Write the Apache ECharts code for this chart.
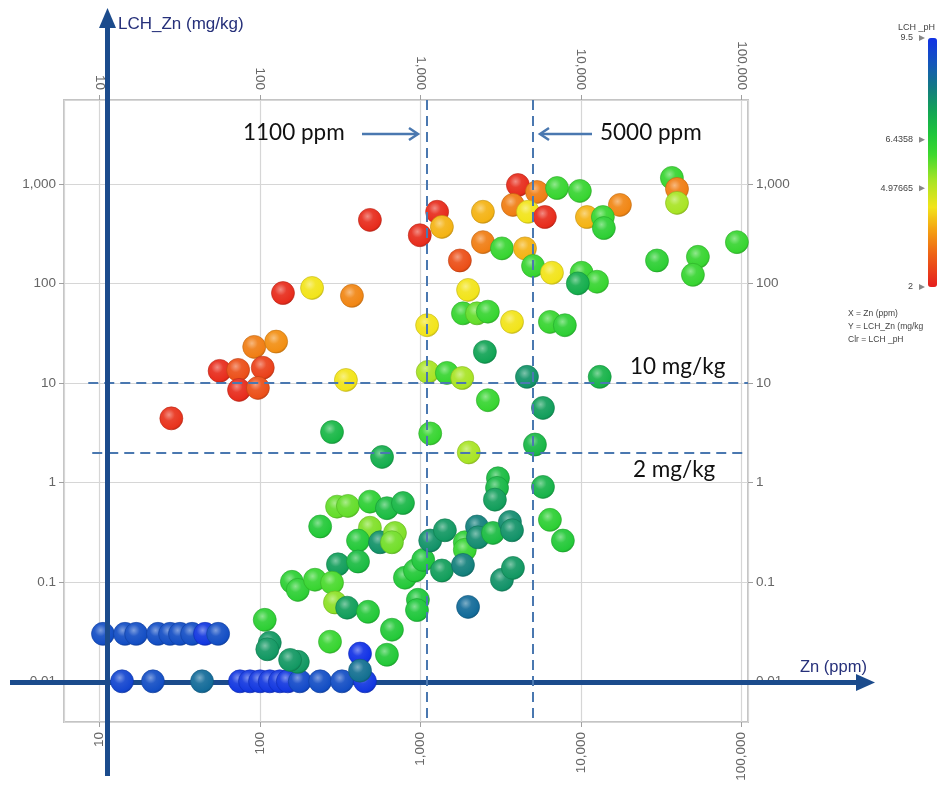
<!DOCTYPE html>
<html><head><meta charset="utf-8">
<script src="https://cdn.jsdelivr.net/npm/echarts@6/dist/echarts.min.js"></script>
<style>html,body{margin:0;padding:0;background:#fff}#c{width:944px;height:790px}</style>
</head><body><div id="c"></div>
<script>
// ---- data ----
const znPpm = [
  10.5,14.4,16.9,23.1,27.5,31.7,37.7,45.4,54.8,
  13.8,21.5,43.5,75,86.6,100,115,133,149,177,237,324,451,
  36900,39700,39700,4050,5320,7100,9850,3770,4680,5960,
  17500,10900,13700,13900,1270,1360,990,2450,2450,3220,
  4480,1760,5030,6600,10100,12600,9570,29800,53600,49900,
  93800,1980,1840,2250,2630,1100,3720,6410,7940,2520,
  1110,1460,1820,4610,13100,2630,5800,484,139,211,
  374,92,126,56,73,104,74,97,343,28,
  281,1150,576,2000,5170,5800,3040,3000,2910,6410,
  7720,302,353,484,618,778,237,484,408,560,
  693,664,306,408,158,172,220,281,800,924,
  1040,1150,1420,1360,1890,1890,2250,2280,1840,2830,
  3610,3720,3220,3770,293,349,471,964,951,1980,
  664,273,618,420,172,154,420,107,115,111
];
const lchZn = [
  0.03,0.03,0.03,0.03,0.03,0.03,0.03,0.03,0.03,
  0.01,0.01,0.01,0.01,0.01,0.01,0.01,0.01,0.01,0.01,0.01,0.01,0.01,
  1150,890,645,975,830,910,850,615,525,465,
  615,465,465,360,525,370,305,525,260,225,
  225,170,150,128,128,104,100,170,185,122,
  260,86,50,50,52,38,41,41,38,20.5,
  12.9,12.6,11.2,11.5,11.5,6.7,5.6,435,80,90,
  75,23,26,13.2,13.5,14.2,8.5,8.9,10.7,4.4,
  3.2,3.1,1.8,2.0,2.4,0.9,1.1,0.88,0.67,0.42,
  0.26,0.57,0.58,0.64,0.55,0.62,0.36,0.35,0.26,0.25,
  0.31,0.25,0.15,0.16,0.10,0.083,0.105,0.098,0.11,0.13,
  0.166,0.26,0.33,0.13,0.25,0.21,0.36,0.28,0.148,0.31,
  0.40,0.33,0.105,0.138,0.062,0.055,0.05,0.066,0.052,0.056,
  0.033,0.025,0.0185,0.019,0.0157,0.0164,0.0128,0.0415,0.0244,0.021
];
const lchPh = [
  8.9,8.9,8.9,8.9,8.9,8.9,8.9,9.4,8.9,
  9.1,8.9,8.3,9.4,9.4,9.4,9.4,9.4,9.4,9.0,8.9,8.9,9.4,
  6.1,3.3,5.2,2.2,3.3,6.1,6.1,3.3,4.4,2.2,
  3.4,3.9,6.1,6.3,2.2,3.9,2.2,3.9,3.3,6.1,
  3.9,2.7,6.1,4.4,6.1,6.1,7.1,6.3,6.1,6.1,
  6.1,4.4,6.1,5.7,6.1,4.4,4.4,6.1,6.3,7.3,
  5.2,6.1,5.2,7.6,7.0,6.1,7.4,2.2,2.2,4.4,
  3.4,3.3,3.5,2.2,2.7,2.5,2.2,2.7,4.4,2.3,
  6.9,6.1,7.1,5.2,6.9,7.0,6.8,6.9,7.4,6.3,
  6.5,5.7,5.7,6.3,6.8,6.9,6.5,5.5,6.5,7.6,
  5.5,5.6,7.4,6.8,6.3,6.3,6.1,5.9,6.5,6.5,
  6.6,7.6,7.5,7.4,6.3,6.1,7.9,7.7,7.9,6.8,
  7.7,7.6,7.6,7.5,5.4,7.4,6.5,6.6,6.6,8.3,
  6.5,6.1,6.5,9.5,7.5,7.5,8.2,6.3,7.5,7.5
];
const xRange = [6, 110000];
const yRange = [0.0039, 6980];
const zinThresholds = [1100, 5000];      // vertical dashed lines (ppm)
const leachThresholds = [10, 2];         // horizontal dashed lines (mg/kg)
const phRange = [2, 9.5];
const legendTicks = [9.5, 6.4358, 4.97665, 2];

// ---- colour scale for pH ----
const phStops = [[2.0,'#e51e1e'],[3.0,'#ee6416'],[3.75,'#f4a412'],[4.4,'#f2e41a'],[5.2,'#a8e424'],
  [6.0,'#3cd82e'],[6.6,'#1ec63a'],[7.3,'#12a455'],[8.0,'#137a82'],[8.7,'#1458b8'],[9.5,'#1232e6']];
function phColor(v){
  for (let i=0;i<phStops.length-1;i++){
    const a=phStops[i], b=phStops[i+1];
    if (v<=b[0]) return echarts.color.lerp((v-a[0])/(b[0]-a[0]), [a[1], b[1]]);
  }
  return phStops[phStops.length-1][1];
}
const vmColors=[]; for(let k=0;k<=75;k++) vmColors.push(phColor(phRange[0]+(phRange[1]-phRange[0])*k/75));
function mix(c, t, w){ const p=echarts.color.parse(c); const r=[0,1,2].map(i=>Math.round(p[i]+(t[i]-p[i])*w)); return 'rgb('+r.join(',')+')'; }

const points = znPpm.map((x,i)=>[x, lchZn[i], lchPh[i]]);

function fmt(v){ const n=Number(Number(v).toPrecision(6)); return n.toLocaleString('en-US',{maximumFractionDigits:6}); }
const FONT='Liberation Sans';
function axis(pos, isX, grid){
  return {
    type:'log', logBase:10, position:pos,
    min: isX?xRange[0]:yRange[0], max: isX?xRange[1]:yRange[1],
    axisLine:{show:false},
    axisTick:{show:true, length:5, lineStyle:{color:'#a0a0a0'}},
    axisLabel:{show:true, rotate: isX?90:0, margin: isX?10:8, color:'#666', fontSize:13.5, fontFamily:FONT,
      showMinLabel:false, showMaxLabel:false, formatter: fmt},
    splitLine:{show:grid, lineStyle:{color:'#d6d6d6', width:1.2}},
    minorTick:{show:false}
  };
}
const dashStyle={type:[10,6], color:'#4a78b0', width:2};
const markData=[];
zinThresholds.forEach(v=>markData.push([{coord:[v,yRange[1]]},{coord:[v,yRange[0]]}]));
markData.push([{coord:[8.5,leachThresholds[0]]},{coord:[110000,leachThresholds[0]]}]);
markData.push([{coord:[9.0,leachThresholds[1]]},{coord:[110000,leachThresholds[1]]}]);

const navy='#1b4b8c', annBlue='#4a78b0';
const gfx=[
  {type:'line', z:1, shape:{x1:10,y1:682.5,x2:858,y2:682.5}, style:{stroke:navy,lineWidth:5}},
  {type:'polygon', z:1, shape:{points:[[875,682.5],[856,674],[856,691]]}, style:{fill:navy}},
  {type:'line', z:100, shape:{x1:107.5,y1:776,x2:107.5,y2:24}, style:{stroke:navy,lineWidth:5}},
  {type:'polygon', z:100, shape:{points:[[107.5,8],[99,28],[116,28]]}, style:{fill:navy}},
  {type:'text', z:100, x:118, y:24, style:{text:'LCH_Zn (mg/kg)', fill:'#26307a', font:'17px '+FONT, verticalAlign:'middle'}},
  {type:'text', z:100, x:800, y:667, style:{text:'Zn (ppm)', fill:'#26307a', font:'16.5px '+FONT, verticalAlign:'middle'}},
  {type:'text', z:100, x:243, y:133, style:{text:'1100 ppm', fill:'#111', font:'22.5px Lato', verticalAlign:'middle'}},
  {type:'line', z:100, shape:{x1:362,y1:134,x2:417,y2:134}, style:{stroke:annBlue,lineWidth:2.5}},
  {type:'polyline', z:100, shape:{points:[[409,128],[418,134],[409,140]]}, style:{stroke:annBlue,lineWidth:2.5}},
  {type:'text', z:100, x:600, y:133, style:{text:'5000 ppm', fill:'#111', font:'22.5px Lato', verticalAlign:'middle'}},
  {type:'line', z:100, shape:{x1:541,y1:134,x2:592,y2:134}, style:{stroke:annBlue,lineWidth:2.5}},
  {type:'polyline', z:100, shape:{points:[[549,128],[540,134],[549,140]]}, style:{stroke:annBlue,lineWidth:2.5}},
  {type:'text', z:100, x:630, y:367, style:{text:'10 mg/kg', fill:'#111', font:'22.5px Lato', verticalAlign:'middle'}},
  {type:'text', z:100, x:633, y:470, style:{text:'2 mg/kg', fill:'#111', font:'22.5px Lato', verticalAlign:'middle'}},
  {type:'text', z:100, x:935, y:28, style:{text:'LCH _pH', fill:'#444', font:'9px '+FONT, align:'right', verticalAlign:'middle'}},
  {type:'text', z:100, x:848, y:314, style:{text:'X = Zn (ppm)', fill:'#444', font:'8.5px '+FONT, verticalAlign:'middle'}},
  {type:'text', z:100, x:848, y:327, style:{text:'Y = LCH_Zn (mg/kg', fill:'#444', font:'8.5px '+FONT, verticalAlign:'middle'}},
  {type:'text', z:100, x:848, y:340, style:{text:'Clr = LCH _pH', fill:'#444', font:'8.5px '+FONT, verticalAlign:'middle'}}
];
const barTop=38, barH=249;
legendTicks.forEach(v=>{
  const y=barTop+(phRange[1]-v)/(phRange[1]-phRange[0])*barH;
  gfx.push({type:'text', z:100, x:913, y:y, style:{text:String(v), fill:'#444', font:'9px '+FONT, align:'right', verticalAlign:'middle'}});
  gfx.push({type:'polygon', z:100, shape:{points:[[919,y-3],[925,y],[919,y+3]]}, style:{fill:'#888'}});
});

const option={
  animation:false,
  backgroundColor:'#fff',
  grid:{left:64, right:196, top:100, bottom:68, show:true, borderColor:'#c4c4c4', borderWidth:2, backgroundColor:'transparent'},
  xAxis:[axis('bottom',true,true), axis('top',true,false)],
  yAxis:[axis('left',false,true), axis('right',false,false)],
  visualMap:{type:'continuous', min:phRange[0], max:phRange[1], dimension:2, seriesIndex:0,
    calculable:false, hoverLink:false, orient:'vertical', left:928, top:barTop, itemWidth:9, itemHeight:barH,
    padding:0, inRange:{color:vmColors}},
  series:[
    {type:'custom', z:2, dimensions:['zn','lch','ph'], encode:{x:0,y:1}, data:points, silent:true,
      renderItem:function(params, api){
        const p=api.coord([api.value(0), api.value(1)]);
        const c=api.visual('color');
        return {type:'circle', shape:{cx:p[0], cy:p[1], r:11.5},
          style:{fill:{type:'radial', x:0.4, y:0.35, r:0.72, colorStops:[
              {offset:0, color:mix(c,[255,255,255],0.45)},
              {offset:0.35, color:mix(c,[255,255,255],0.08)},
              {offset:0.8, color:c},
              {offset:1, color:mix(c,[0,0,0],0.3)}]},
            stroke:mix(c,[0,0,0],0.2), lineWidth:0.6}};
      }},
    {type:'line', z:5, data:[], silent:true,
      markLine:{silent:true, symbol:['none','none'], label:{show:false}, lineStyle:dashStyle, data:markData, animation:false}}
  ],
  graphic:gfx
};
const chart=echarts.init(document.getElementById('c'));
chart.setOption(option);
</script></body></html>
